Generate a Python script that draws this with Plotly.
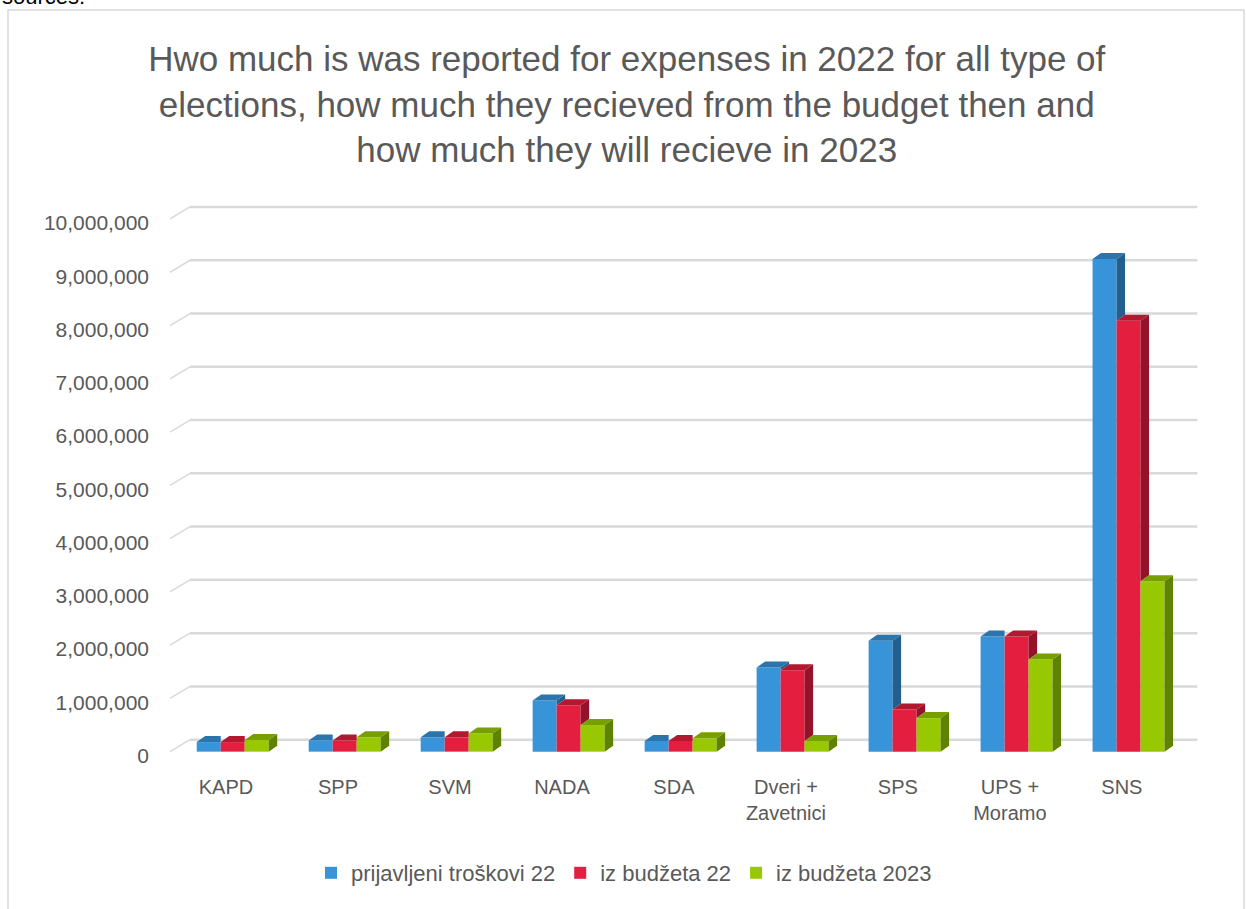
import plotly.graph_objects as go

# ---------------- data ----------------
categories = ["KAPD", "SPP", "SVM", "NADA", "SDA", "Dveri +<br>Zavetnici", "SPS", "UPS +<br>Moramo", "SNS"]
series_names = ["prijavljeni troškovi 22", "iz budžeta 22", "iz budžeta 2023"]
reported_22 = [180000, 210000, 270000, 960000, 200000, 1580000, 2080000, 2160000, 9250000]
budget_22 = [180000, 210000, 270000, 870000, 200000, 1530000, 790000, 2160000, 8090000]
budget_23 = [220000, 270000, 340000, 500000, 250000, 200000, 630000, 1730000, 3200000]
y_ticks = [0, 1000000, 2000000, 3000000, 4000000, 5000000, 6000000, 7000000, 8000000, 9000000, 10000000]
title_text = ("Hwo much is was reported for expenses in 2022 for all type of<br>"
              "elections, how much they recieved from the budget then and<br>"
              "how much they will recieve in 2023")

# ---------------- style ----------------
FRONT = ["#3894D8", "#E31E3F", "#97C800"]
TOP = ["#2B74AC", "#B2182F", "#789F00"]
SIDE = ["#235F8E", "#94132A", "#5F8200"]
TXT = "#595959"
FONT = "Liberation Sans, Arial, sans-serif"

W, H = 1246, 909
L, R_PX = 170, 1198          # plot area pixel extent (x)
T_PX, B_PX = 203, 757        # plot area pixel extent (y)
X0, X1 = -0.5, 8.68
Y0, Y1 = -100000, 10300000
px_x = (R_PX - L) / (X1 - X0)
px_y = (B_PX - T_PX) / (Y1 - Y0)

bar_w = 24 / px_x
shift = 0.06
dx = 8.5 / px_x
dy = 6 / px_y
back_dx = 20 / px_x
back_dy = 12 / px_y

series = [reported_22, budget_22, budget_23]
xs = list(range(len(categories)))

fig = go.Figure()

# side / top faces (clipped where the next bar in front hides them)
for k, vals in enumerate(series):
    off = -1.5 * bar_w + k * bar_w + shift
    sx, sy, tx, ty = [], [], [], []
    for i, v in enumerate(vals):
        xl = i + off
        xr = xl + bar_w
        nxt = series[k + 1][i] if k + 1 < len(series) else 0
        if v > nxt:
            base = nxt
            sx += [xr, xr + dx, xr + dx, xr, xr, None]
            sy += [base, base + dy, v + dy, v, base, None]
        right = xr + dx if nxt < v else xr
        tx += [xl, xl + dx, right, xr, xl, None]
        ty += [v, v + dy, v + dy, v, v, None]
    fig.add_trace(go.Scatter(x=sx, y=sy, fill="toself", fillcolor=SIDE[k], mode="lines",
                             line=dict(width=0, color=SIDE[k]), showlegend=False, hoverinfo="skip"))
    fig.add_trace(go.Scatter(x=tx, y=ty, fill="toself", fillcolor=TOP[k], mode="lines",
                             line=dict(width=0, color=TOP[k]), showlegend=False, hoverinfo="skip"))

# front faces as real bars
for k, vals in enumerate(series):
    off = -1.5 * bar_w + k * bar_w + shift
    fig.add_trace(go.Bar(x=xs, y=vals, name=series_names[k], width=bar_w, offset=off,
                         marker=dict(color=FRONT[k], line=dict(width=0))))

# back wall gridlines + wall diagonals
shapes = []
for t in y_ticks:
    shapes.append(dict(type="line", xref="x", yref="y", x0=X0 + back_dx, x1=X1 - 0.005,
                       y0=t + back_dy, y1=t + back_dy, line=dict(color="#D9D9D9", width=2.5),
                       layer="below"))
    shapes.append(dict(type="line", xref="x", yref="y", x0=X0, x1=X0 + back_dx,
                       y0=t, y1=t + back_dy, line=dict(color="#D9D9D9", width=1.5),
                       layer="below"))
pw = R_PX - L
ph = B_PX - T_PX
shapes.append(dict(type="rect", xref="paper", yref="paper",
                   x0=(8 - L) / pw, x1=(1244 - L) / pw,
                   y0=(B_PX - 925) / ph, y1=(B_PX - 10) / ph,
                   line=dict(color="#D9D9D9", width=1.5), fillcolor="rgba(0,0,0,0)", layer="below"))

fig.update_layout(
    width=W, height=H,
    margin=dict(l=L, r=W - R_PX, t=T_PX, b=H - B_PX, autoexpand=False),
    paper_bgcolor="white", plot_bgcolor="white",
    barmode="overlay",
    font=dict(family=FONT, color=TXT, size=20),
    title=dict(text=title_text, x=0.503, xanchor="center", y=1 - 71 / H, yanchor="top",
               font=dict(family=FONT, size=35, color=TXT)),
    xaxis=dict(range=[X0, X1], tickmode="array", tickvals=xs, ticktext=categories,
               showgrid=False, zeroline=False, showline=False, ticks="",
               ticklabelstandoff=16, tickfont=dict(size=20, color=TXT)),
    yaxis=dict(range=[Y0, Y1], tickmode="array", tickvals=y_ticks,
               tickformat=",d", showgrid=False, zeroline=False, showline=False, ticks="",
               ticklabelstandoff=20, ticklabelshift=4, tickfont=dict(size=21, color=TXT)),
    legend=dict(orientation="h", x=(624 - L) / pw, xanchor="center", y=(B_PX - 873) / ph,
                yanchor="middle", font=dict(size=22, color=TXT), itemwidth=30,
                traceorder="normal"),
    shapes=shapes,
    annotations=[dict(text="sources:", xref="paper", yref="paper", x=(0 - L) / pw, xanchor="left",
                      y=(B_PX - 11) / ph, yanchor="bottom", showarrow=False,
                      font=dict(family=FONT, size=22, color="#000000"))],
)

fig.write_html("out.html", config={"displayModeBar": False},
               post_script="document.body.style.margin='0';document.body.style.overflow='hidden';")
